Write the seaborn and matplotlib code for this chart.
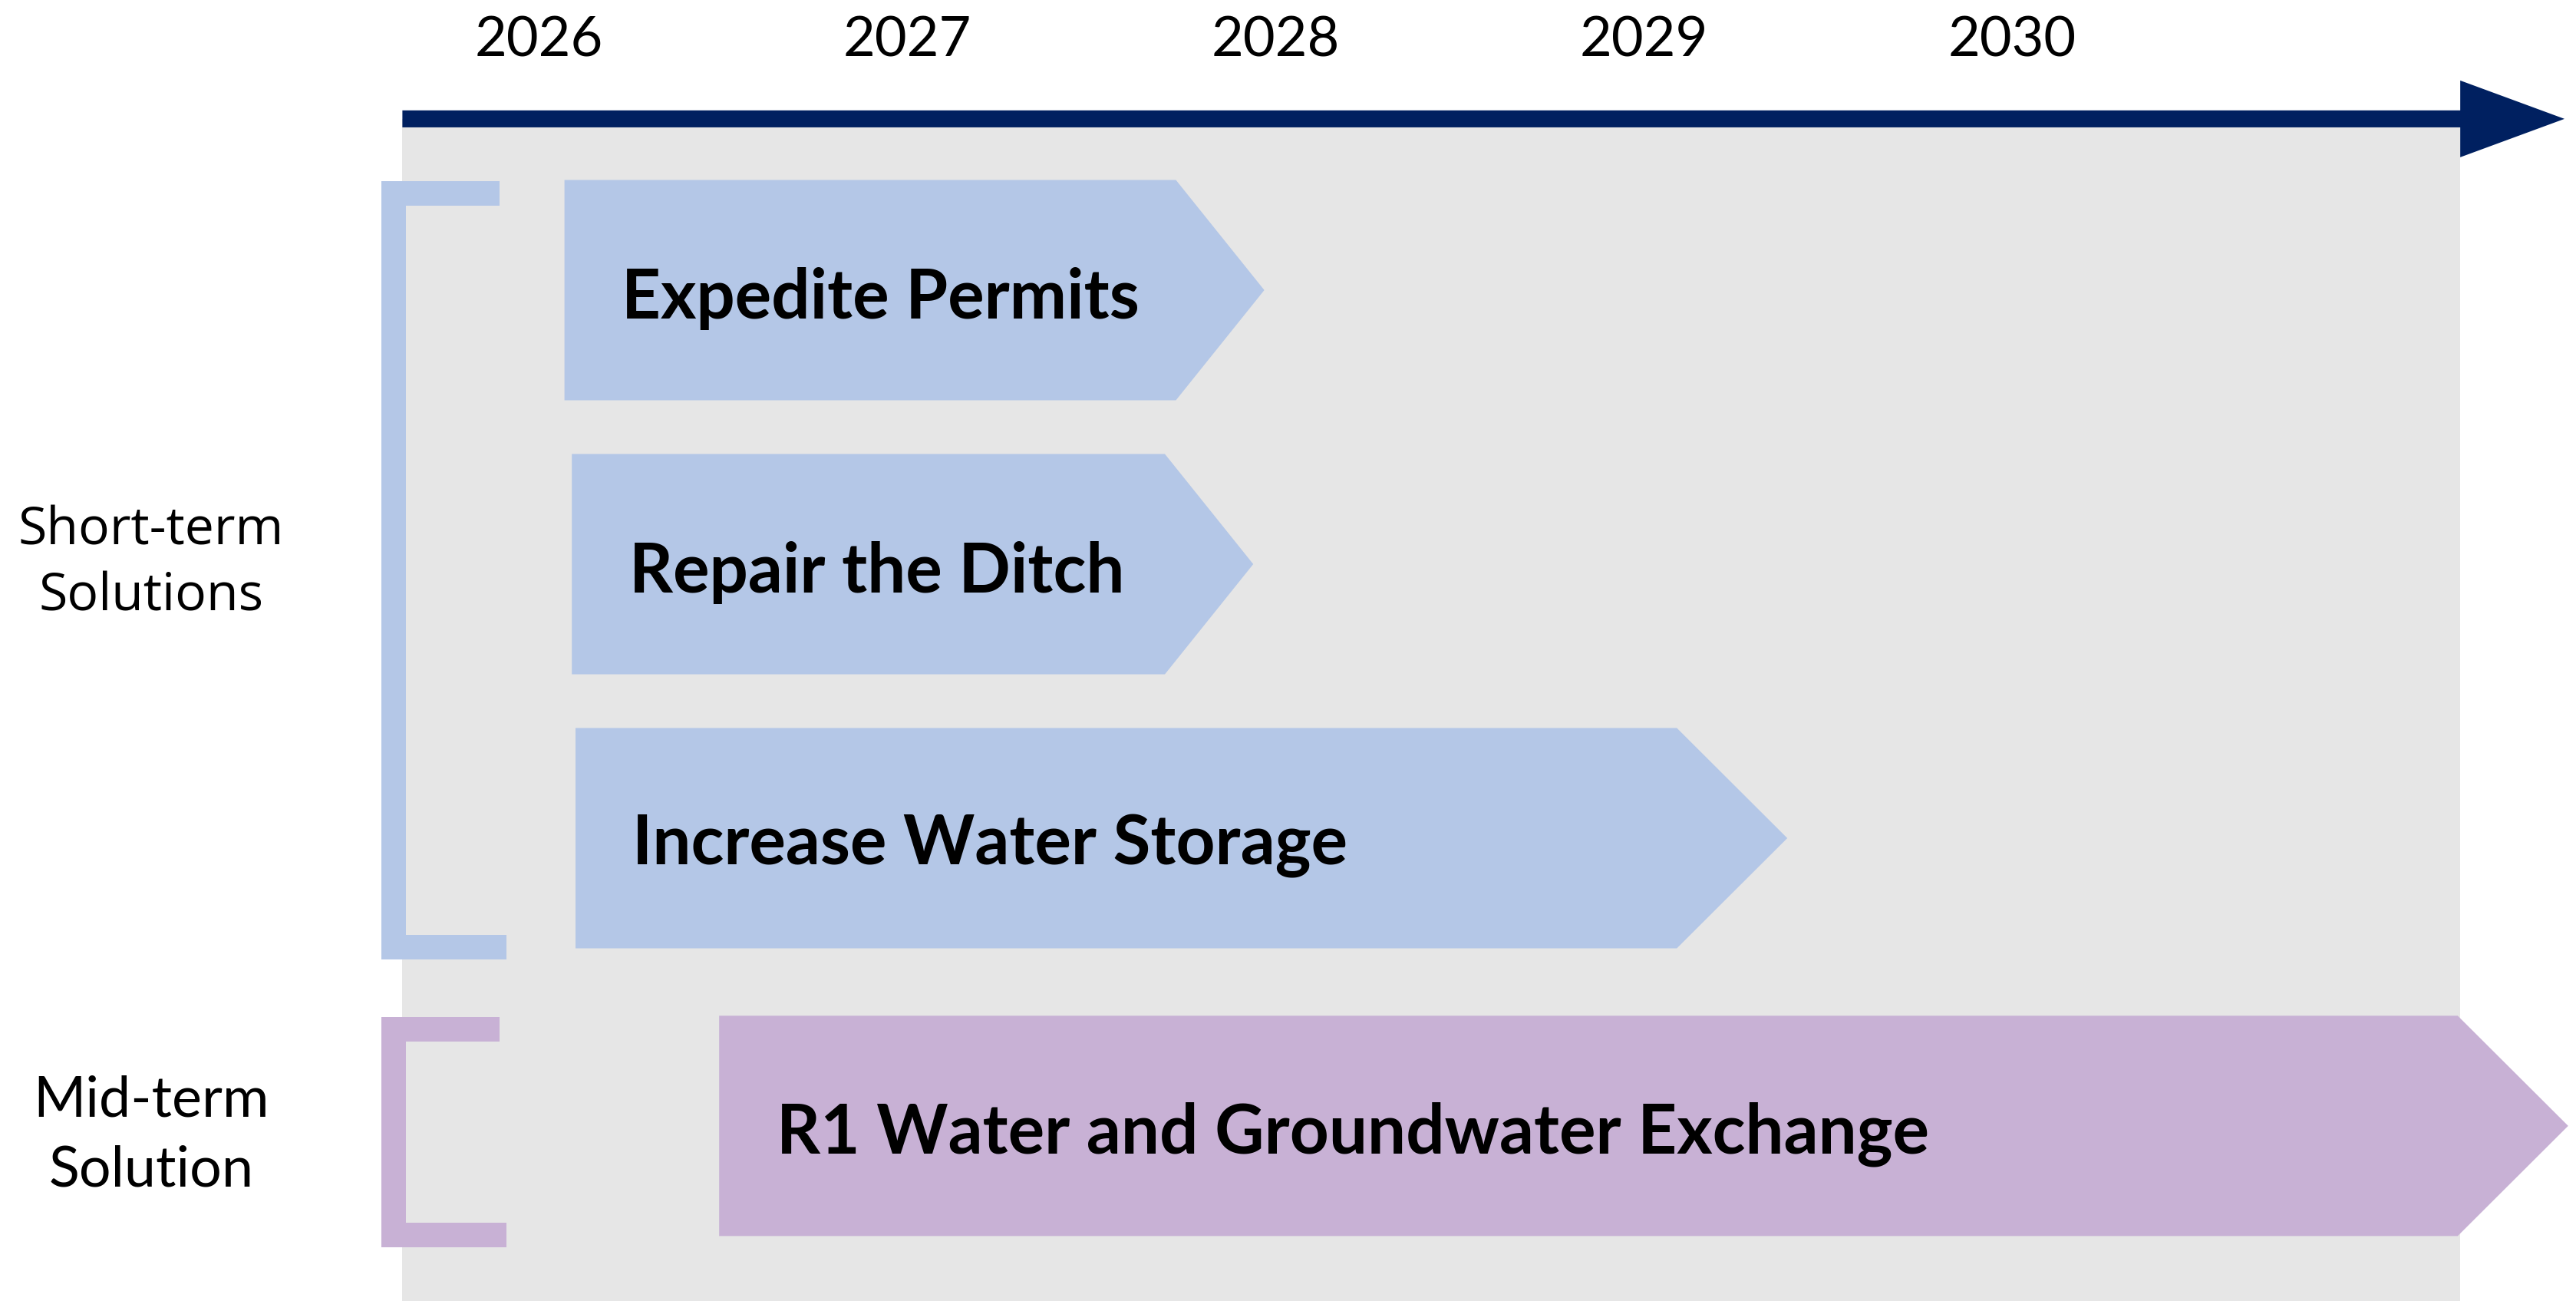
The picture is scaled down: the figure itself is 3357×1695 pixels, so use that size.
import numpy as np
import seaborn as sns
import matplotlib.pyplot as plt

# timeline data
years = [2026, 2027, 2028, 2029, 2030]
tasks = ["Expedite Permits", "Repair the Ditch", "Increase Water Storage",
         "R1 Water and Groundwater Exchange"]
task_group = ["short", "short", "short", "mid"]
task_start = [2026.07, 2026.09, 2026.10, 2026.49]
task_end = [2027.97, 2027.94, 2029.39, 2031.51]
group_keys = ["short", "mid"]
group_labels = ["Short-term\nSolutions", "Mid-term\nSolution"]

timeline_start = 2025.63
timeline_end = 2031.50

sns.set_theme(style="white")
plt.rcParams['font.family'] = ['Lato', 'DejaVu Sans']

colors = {"short": "#B4C7E7", "mid": "#C8B1D5"}
navy = "#002060"
grey_bg = "#E6E6E6"

fig = plt.figure(figsize=(33.57, 16.95), dpi=100)
ax = fig.add_axes([0, 0, 1, 1])
ax.set_xlim(2024.5375, 2031.53125)
ax.set_ylim(3.6891, -1.0588)
ax.axis('off')

# row positions: a small extra gap before the mid-term group
rows = [i + (0.05 if g == "mid" else 0) for i, g in enumerate(task_group)]
half_h = 0.402
tip_len = [0.24, 0.24, 0.30, 0.30]

# timeline arrow + grey panel
axis_y = -0.625
bar_w = 0.031
head_w = 0.14
head_len = 0.283
head_base = timeline_end - head_len
ax.fill([timeline_start, head_base, head_base, timeline_start],
        [axis_y, axis_y, 3.8, 3.8], color=grey_bg, lw=0, zorder=0)
ax.fill([timeline_start, head_base, head_base, timeline_end, head_base, head_base, timeline_start],
        [axis_y - bar_w, axis_y - bar_w, axis_y - head_w, axis_y,
         axis_y + head_w, axis_y + bar_w, axis_y + bar_w],
        color=navy, lw=0, zorder=3)

for yr in years:
    ax.text(yr, -0.91, str(yr), ha='center', va='center', fontsize=52, color='black')

# chevrons
for name, g, s, e, y, t in zip(tasks, task_group, task_start, task_end, rows, tip_len):
    xs = [s, e - t, e, e - t, s]
    ys = [y - half_h, y - half_h, y, y + half_h, y + half_h]
    ax.fill(xs, ys, color=colors[g], lw=0, zorder=2)
    ax.text(s + 0.155, y + 0.03, name, ha='left', va='center', fontsize=64,
            fontweight='bold', color='black', zorder=4)

# brackets and group labels
br_x = 2025.573
br_t = 0.0667
arm_len = 0.32
arm_t = 0.09
label_fonts = ['Open Sans', 'Lato']
label_sizes = [49, 53]
label_spacing = [1.36, 1.45]
label_shift = [0.0, 0.035]
for key, lab, fam, fs, ls, dy in zip(group_keys, group_labels, label_fonts,
                                     label_sizes, label_spacing, label_shift):
    ys = [y for y, g in zip(rows, task_group) if g == key]
    top = min(ys) - half_h + 0.004
    bot = max(ys) + half_h + 0.04
    c = colors[key]
    ax.fill([br_x, br_x + br_t, br_x + br_t, br_x], [top, top, bot, bot], color=c, lw=0, zorder=2)
    ax.fill([br_x, br_x + arm_len, br_x + arm_len, br_x], [top, top, top + arm_t, top + arm_t],
            color=c, lw=0, zorder=2)
    ax.fill([br_x, br_x + arm_len + 0.02, br_x + arm_len + 0.02, br_x], [bot - arm_t, bot - arm_t, bot, bot],
            color=c, lw=0, zorder=2)
    ax.text(2024.948, np.mean(ys) + dy, lab, ha='center', va='center', fontsize=fs,
            family=[fam, 'DejaVu Sans'], linespacing=ls, color='black')

fig.savefig("out.png", dpi=100, facecolor='white')
